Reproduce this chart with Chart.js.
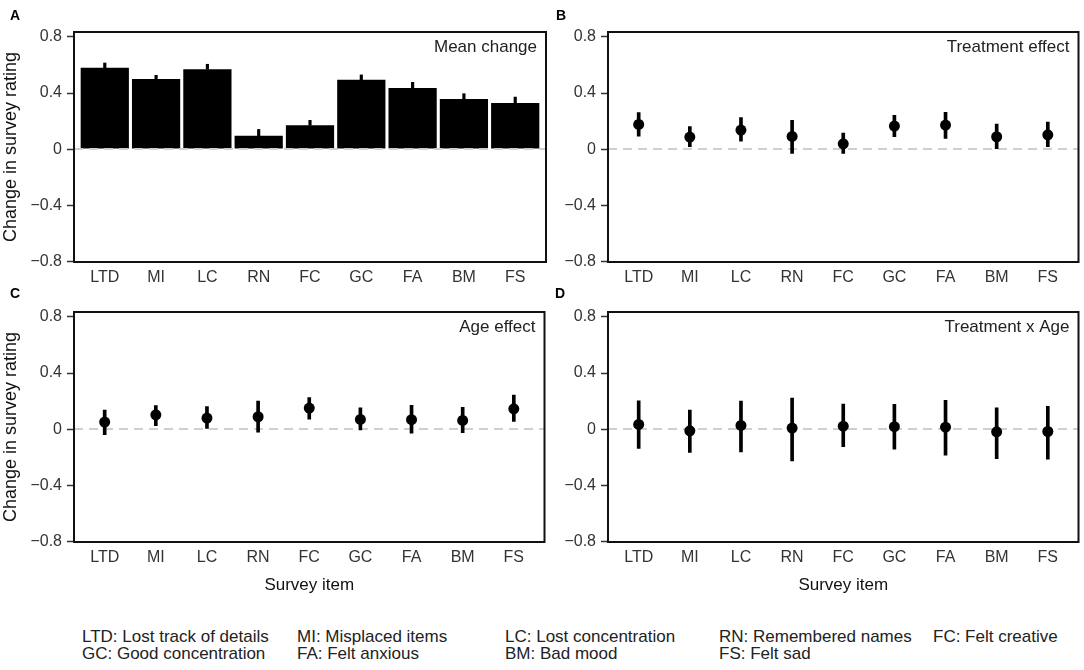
<!DOCTYPE html>
<html>
<head>
<meta charset="utf-8">
<script src="https://cdn.jsdelivr.net/npm/chart.js@4.4.1/dist/chart.umd.min.js"></script>
<style>
body { margin: 0; width: 1084px; height: 670px; background: #fff; position: relative; overflow: hidden;
       font-family: "Liberation Sans", Arial, sans-serif; }
canvas { position: absolute; }
.tag { position: absolute; font-weight: bold; font-size: 14px; line-height: 14px; color: #000; }
.key { position: absolute; font-size: 17px; line-height: 20px; color: #222; white-space: nowrap; }
</style>
</head>
<body>
<canvas id="chartA" width="550" height="300" style="left:0;top:0"></canvas>
<canvas id="chartB" width="550" height="300" style="left:534px;top:0"></canvas>
<canvas id="chartC" width="550" height="320" style="left:0;top:280px"></canvas>
<canvas id="chartD" width="550" height="320" style="left:534px;top:280px"></canvas>

<div class="tag" style="left:10px;top:8px">A</div>
<div class="tag" style="left:556px;top:8px">B</div>
<div class="tag" style="left:10px;top:286px">C</div>
<div class="tag" style="left:555px;top:286px">D</div>

<div class="key" style="left:82px;top:627px">LTD: Lost track of details</div>
<div class="key" style="left:297px;top:627px">MI: Misplaced items</div>
<div class="key" style="left:505px;top:627px">LC: Lost concentration</div>
<div class="key" style="left:719px;top:627px">RN: Remembered names</div>
<div class="key" style="left:933px;top:627px">FC: Felt creative</div>
<div class="key" style="left:82px;top:644px">GC: Good concentration</div>
<div class="key" style="left:297px;top:644px">FA: Felt anxious</div>
<div class="key" style="left:505px;top:644px">BM: Bad mood</div>
<div class="key" style="left:719px;top:644px">FS: Felt sad</div>

<script>
var items = ['LTD', 'MI', 'LC', 'RN', 'FC', 'GC', 'FA', 'BM', 'FS'];
var yTicks = [-0.8, -0.4, 0, 0.4, 0.8];

// panel A: mean change (bar) and top of its error bar
var meanChange = [0.58, 0.50, 0.57, 0.095, 0.17, 0.495, 0.436, 0.357, 0.329];
var meanHigh = [0.614, 0.526, 0.605, 0.14, 0.205, 0.529, 0.476, 0.395, 0.371];

// panel B: treatment effect
var treatEst = [0.176, 0.086, 0.136, 0.09, 0.038, 0.164, 0.171, 0.088, 0.102];
var treatLow = [0.093, 0.017, 0.057, -0.031, -0.031, 0.088, 0.076, 0.0, 0.017];
var treatHigh = [0.26, 0.16, 0.224, 0.205, 0.114, 0.24, 0.262, 0.179, 0.193];

// panel C: age effect
var ageEst = [0.05, 0.102, 0.079, 0.088, 0.15, 0.069, 0.067, 0.062, 0.145];
var ageLow = [-0.04, 0.024, 0.005, -0.021, 0.071, -0.005, -0.029, -0.026, 0.055];
var ageHigh = [0.136, 0.167, 0.16, 0.2, 0.224, 0.152, 0.169, 0.155, 0.243];

// panel D: treatment x age
var interEst = [0.033, -0.012, 0.026, 0.007, 0.021, 0.017, 0.014, -0.019, -0.017];
var interLow = [-0.138, -0.167, -0.162, -0.226, -0.126, -0.143, -0.186, -0.21, -0.214];
var interHigh = [0.202, 0.136, 0.2, 0.221, 0.179, 0.176, 0.205, 0.152, 0.162];

function fmtTick(v) {
    if (v === 0) return '0';
    return (v < 0 ? '\u2212' : '') + Math.abs(v).toFixed(1);
}

function panelPlugin(label) {
    return {
        id: 'panelBox',
        afterDraw: function(chart) {
            var a = chart.chartArea, ctx = chart.ctx;
            ctx.save();
            ctx.strokeStyle = '#111';
            ctx.lineWidth = 2;
            ctx.strokeRect(a.left, a.top, a.right - a.left, a.bottom - a.top);
            ctx.fillStyle = '#222';
            ctx.font = '17px "Liberation Sans", Arial, sans-serif';
            ctx.textAlign = 'right';
            ctx.textBaseline = 'alphabetic';
            ctx.fillText(label, a.right - 9, a.top + 19.5);
            ctx.restore();
        }
    };
}

function zeroLine(order) {
    return {
        type: 'line',
        data: [{x: -0.6, y: 0}, {x: 8.6, y: 0}],
        borderColor: '#cfcfcf',
        borderWidth: 2,
        borderDash: [9, 6],
        pointRadius: 0,
        order: order
    };
}

function makePanel(id, cfg) {
    var datasets = [];
    if (cfg.bars) {
        datasets.push(zeroLine(0));
        datasets.push({
            type: 'bar',
            data: items.map(function(c, i) { return {x: i, y: cfg.bars[i]}; }),
            backgroundColor: '#000',
            barPercentage: 0.94,
            categoryPercentage: 1,
            grouped: false,
            order: 2
        });
        datasets.push({
            type: 'bar',
            data: items.map(function(c, i) { return {x: i, y: [cfg.bars[i], cfg.high[i]]}; }),
            backgroundColor: '#000',
            barThickness: 2.5,
            grouped: false,
            order: 1
        });
    } else {
        datasets.push(zeroLine(3));
        datasets.push({
            type: 'bar',
            data: items.map(function(c, i) { return {x: i, y: [cfg.low[i], cfg.high[i]]}; }),
            backgroundColor: '#000',
            barThickness: 3,
            grouped: false,
            order: 1
        });
        datasets.push({
            type: 'scatter',
            data: items.map(function(c, i) { return {x: i, y: cfg.est[i]}; }),
            backgroundColor: '#000',
            borderWidth: 0,
            pointRadius: 5.5,
            order: 0
        });
    }

    new Chart(document.getElementById(id), {
        type: 'bar',
        data: { datasets: datasets },
        options: {
            responsive: false,
            animation: false,
            events: [],
            layout: { padding: { top: 32, right: cfg.padRight, left: 0, bottom: 0 } },
            plugins: { legend: { display: false }, tooltip: { enabled: false } },
            scales: {
                x: {
                    type: 'linear',
                    min: -0.6,
                    max: 8.6,
                    offset: false,
                    afterBuildTicks: function(s) { s.ticks = items.map(function(c, i) { return {value: i}; }); },
                    afterFit: function(s) { s.height = cfg.xHeight; },
                    grid: { display: false, drawTicks: false, offset: false },
                    border: { display: false },
                    ticks: {
                        autoSkip: false,
                        maxRotation: 0,
                        padding: 6,
                        color: '#333',
                        font: { size: 16, family: '"Liberation Sans", Arial, sans-serif' },
                        callback: function(v) { return items[v]; }
                    },
                    title: {
                        display: cfg.xTitle,
                        text: 'Survey item',
                        color: '#111',
                        padding: { top: 0, bottom: 4 },
                        font: { size: 17, family: '"Liberation Sans", Arial, sans-serif' }
                    }
                },
                y: {
                    min: -0.805,
                    max: 0.835,
                    afterBuildTicks: function(s) { s.ticks = yTicks.map(function(v) { return {value: v}; }); },
                    afterFit: function(s) { s.width = 74; },
                    grid: { drawOnChartArea: false, drawTicks: true, tickLength: 7, tickColor: '#333', tickWidth: 1.5 },
                    border: { display: false },
                    ticks: {
                        padding: 5,
                        color: '#333',
                        font: { size: 16, family: '"Liberation Sans", Arial, sans-serif' },
                        callback: function(v) { return fmtTick(v); }
                    },
                    title: {
                        display: cfg.yTitle,
                        text: 'Change in survey rating',
                        color: '#111',
                        padding: { top: 0, bottom: 0 },
                        font: { size: 18, family: '"Liberation Sans", Arial, sans-serif' }
                    }
                }
            }
        },
        plugins: [panelPlugin(cfg.label)]
    });
}

makePanel('chartA', { bars: meanChange, high: meanHigh, label: 'Mean change',
    yTitle: true, xTitle: false, xHeight: 38, padRight: 4 });
makePanel('chartB', { est: treatEst, low: treatLow, high: treatHigh, label: 'Treatment effect',
    yTitle: false, xTitle: false, xHeight: 38, padRight: 2 });
makePanel('chartC', { est: ageEst, low: ageLow, high: ageHigh, label: 'Age effect',
    yTitle: true, xTitle: true, xHeight: 58, padRight: 4 });
makePanel('chartD', { est: interEst, low: interLow, high: interHigh, label: 'Treatment x Age',
    yTitle: false, xTitle: true, xHeight: 58, padRight: 2 });
</script>
</body>
</html>
